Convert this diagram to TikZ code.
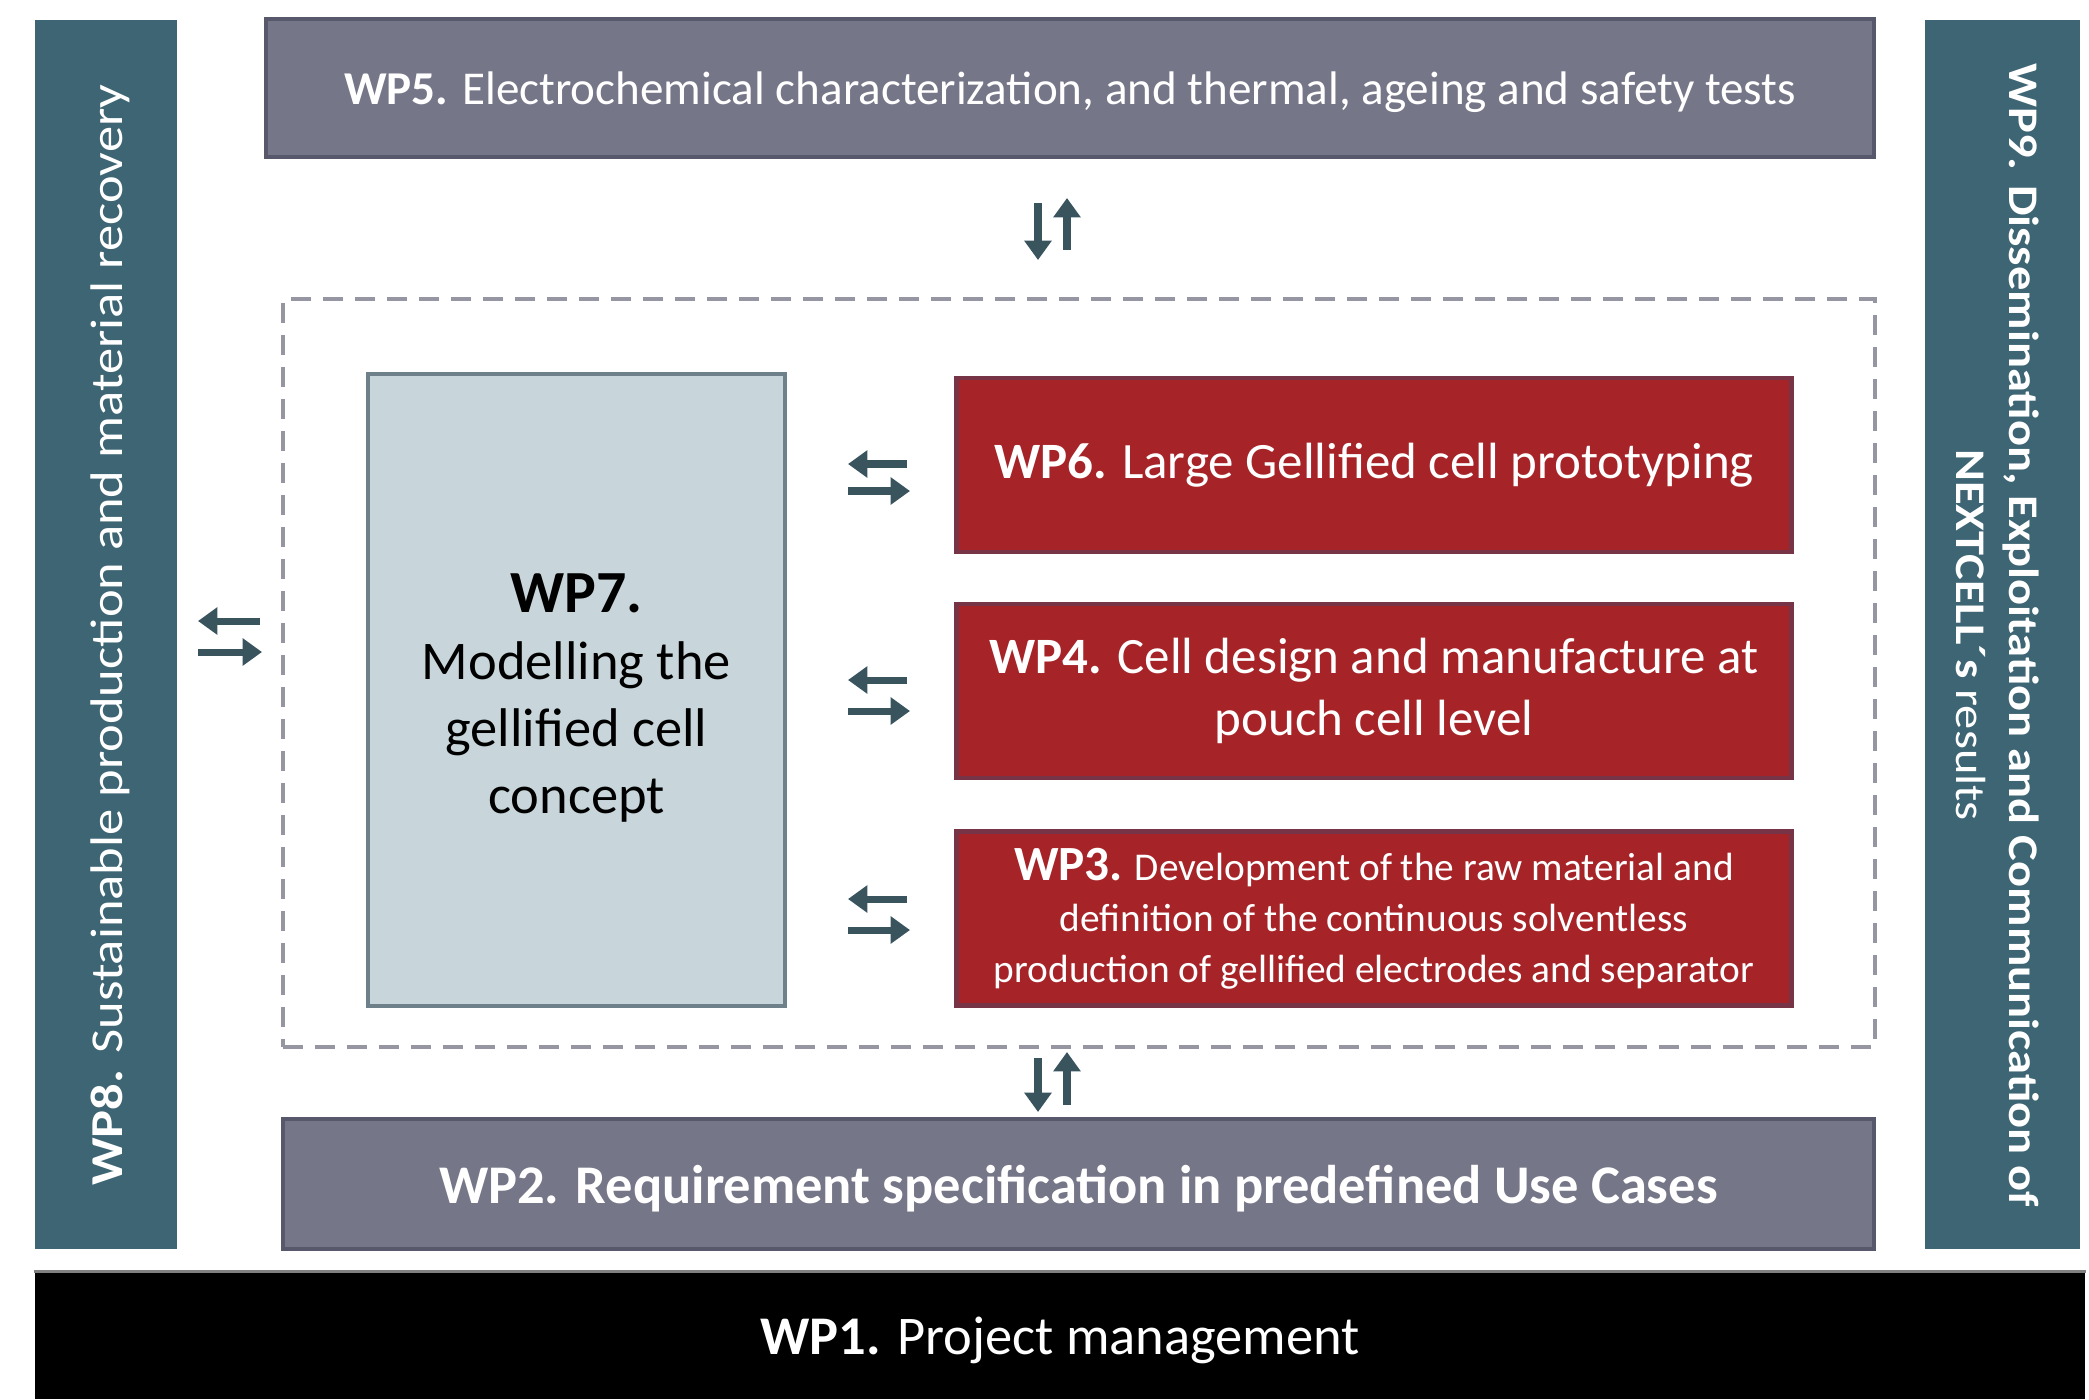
\documentclass[tikz,border=0pt]{standalone}
\usepackage{fontspec}
\setmainfont{Carlito}
\newfontfamily\barfont[FakeStretch=1.15]{Carlito}
\usetikzlibrary{arrows.meta}

\definecolor{wpteal}{RGB}{62,101,116}
\definecolor{wpgrayfill}{RGB}{118,118,137}
\definecolor{wpgrayline}{RGB}{88,88,108}
\definecolor{wpredfill}{RGB}{166,36,40}
\definecolor{wpredline}{RGB}{118,52,70}
\definecolor{wpbluefill}{RGB}{200,214,219}
\definecolor{wpblueline}{RGB}{110,128,138}
\definecolor{wparrow}{RGB}{58,84,94}
\definecolor{wpdash}{RGB}{150,150,162}

\tikzset{
  wpgray/.style={draw=wpgrayline, line width=1.2pt, fill=wpgrayfill, text=white, inner sep=0pt, text depth=0pt},
  wpred/.style={draw=wpredline, line width=1.2pt, fill=wpredfill, text=white, align=center, inner sep=0pt, minimum width=8.35cm, minimum height=1.74cm},
  wpbar/.style={fill=wpteal, text=white, inner sep=0pt, minimum height=12.29cm},
  arr/.style={draw=wparrow, line width=2pt, -{Triangle[width=7.5pt,length=5.5pt]}},
}

\begin{document}
\begin{tikzpicture}
    \useasboundingbox[fill=white] (0,0) rectangle (20.89,-13.99);

    % Barras laterais
    \node[wpbar, minimum width=1.42cm] (wp8) at (1.06,-6.345) {};
    \node[rotate=90, text=white, font=\barfont\fontsize{13}{15}\selectfont] (wp8txt) at (1.10,-6.35) {\textbf{WP8.} Sustainable production and material recovery};
    \node[wpbar, minimum width=1.55cm] (wp9) at (20.025,-6.345) {};
    \node[rotate=-90, text=white, align=center, font=\barfont\fontsize{12}{15}\selectfont] (wp9txt) at (19.98,-6.35) {\textbf{WP9. Dissemination, Exploitation and Communication of}\\\textbf{NEXTCELL´s} results};

    % Caixas de cima e de baixo
    \node[wpgray, minimum width=16.08cm, minimum height=1.38cm, font=\fontsize{13.4}{15}\selectfont] (wp5) at (10.70,-0.88) {\textbf{WP5.} Electrochemical characterization, and thermal, ageing and safety tests};
    \node[wpgray, minimum width=15.91cm, minimum height=1.30cm, font=\bfseries\fontsize{15.5}{18}\selectfont] (wp2) at (10.785,-11.84) {WP2. Requirement specification in predefined Use Cases};
    \node[fill=black, text=white, inner sep=0pt, text depth=0pt, minimum width=20.5cm, minimum height=1.27cm, font=\fontsize{15.5}{18}\selectfont] (wp1) at (10.60,-13.355) {\textbf{WP1.} Project management};
    \draw[gray, line width=1pt] (wp1.north west) -- (wp1.north east);

    % Bloco central
    \node[draw=wpdash, dash pattern=on 2mm off 1.2mm, line width=1.2pt, minimum width=15.92cm, minimum height=7.48cm] (core) at (10.79,-6.73) {};
    \node[draw=wpblueline, line width=1.4pt, fill=wpbluefill, inner sep=0pt, minimum width=4.17cm, minimum height=6.32cm] (wp7) at (5.765,-6.90) {};
    \node[align=center, font=\fontsize{15.5}{19}\selectfont] (wp7txt) at (5.765,-6.98) {\textbf{\fontsize{17}{19}\selectfont WP7.}\\Modelling the\\gellified cell\\concept};
    \node[wpred, font=\fontsize{14.5}{17.5}\selectfont] (wp6) at (13.74,-4.65) {\textbf{WP6.} Large Gellified cell prototyping};
    \node[wpred, font=\fontsize{14.5}{17.5}\selectfont] (wp4) at (13.74,-6.91) {\textbf{WP4.} Cell design and manufacture at\\pouch cell level};
    \node[wpred, font=\fontsize{11.2}{14.5}\selectfont] (wp3) at (13.74,-9.185) {{\fontsize{14}{14.5}\selectfont\textbf{WP3.}} Development of the raw material and\\definition of the continuous solventless\\production of gellified electrodes and separator};

    % Setas
    \coordinate (up5) at (10.525,-2.29);
    \coordinate (dn2) at (10.525,-10.82);
    \coordinate (lf8) at (2.30,-6.365);
    \coordinate (rt6) at (8.79,-4.775);
    \coordinate (rt4) at (8.79,-6.955);
    \coordinate (rt3) at (8.79,-9.145);

    \draw[arr] ([shift={(-0.145,0.26)}]up5) -- ([shift={(-0.145,-0.31)}]up5);
    \draw[arr] ([shift={(0.145,-0.21)}]up5) -- ([shift={(0.145,0.31)}]up5);
    \draw[arr] ([shift={(-0.145,0.24)}]dn2) -- ([shift={(-0.145,-0.30)}]dn2);
    \draw[arr] ([shift={(0.145,-0.23)}]dn2) -- ([shift={(0.145,0.30)}]dn2);
    \draw[arr] ([shift={(0.30,0.155)}]lf8) -- ([shift={(-0.32,0.155)}]lf8);
    \draw[arr] ([shift={(-0.32,-0.155)}]lf8) -- ([shift={(0.32,-0.155)}]lf8);
    \draw[arr] ([shift={(0.28,0.135)}]rt6) -- ([shift={(-0.31,0.135)}]rt6);
    \draw[arr] ([shift={(-0.31,-0.135)}]rt6) -- ([shift={(0.31,-0.135)}]rt6);
    \draw[arr] ([shift={(0.28,0.155)}]rt4) -- ([shift={(-0.31,0.155)}]rt4);
    \draw[arr] ([shift={(-0.31,-0.155)}]rt4) -- ([shift={(0.31,-0.155)}]rt4);
    \draw[arr] ([shift={(0.28,0.155)}]rt3) -- ([shift={(-0.31,0.155)}]rt3);
    \draw[arr] ([shift={(-0.31,-0.155)}]rt3) -- ([shift={(0.31,-0.155)}]rt3);
\end{tikzpicture}
\end{document}
